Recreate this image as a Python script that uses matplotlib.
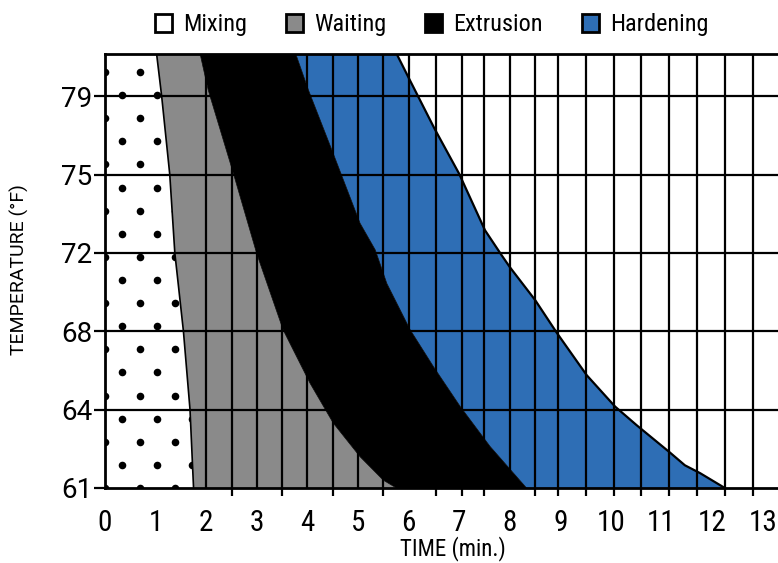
import numpy as np
import matplotlib
matplotlib.use('Agg')
import matplotlib.pyplot as plt
from matplotlib import font_manager
from matplotlib.patches import Patch

# Temperature levels on the y axis (drawn evenly spaced, one unit apart)
temp_labels = ['61', '64', '68', '72', '75', '79']
time_ticks = list(range(0, 14))

# Stage boundaries: time (min.) vs. level on the
# temperature axis (0 = 61, 1 = 64, ... 5 = 79, 5.54 = top of the plot)
mix_t = [1.02, 1.12, 1.28, 1.38, 1.55, 1.68, 1.75]
mix_lvl = [5.54, 5.0, 4.0, 3.0, 2.0, 1.0, 0.0]

ext_start_t = [1.88, 2.04, 2.54, 3.0, 3.52, 4.05, 4.51, 5.04, 5.50, 5.76]
ext_start_lvl = [5.54, 5.08, 4.01, 2.99, 2.02, 1.34, 0.83, 0.40, 0.10, 0.0]

ext_end_t = [3.77, 4.02, 4.51, 5.04, 5.34, 5.57, 6.03, 6.49, 7.02, 7.61, 8.33]
ext_end_lvl = [5.54, 5.08, 4.27, 3.38, 3.04, 2.61, 2.02, 1.55, 1.04, 0.53, 0.0]

hard_t = [5.765, 6.03, 6.51, 7.0, 7.51, 7.84, 8.0, 8.50, 8.93, 9.52, 10.08,
          10.51, 11.17, 11.46, 11.76, 12.25]
hard_lvl = [5.54, 5.20, 4.59, 4.01, 3.29, 2.97, 2.82, 2.40, 1.98, 1.44, 1.04,
            0.80, 0.45, 0.29, 0.19, 0.0]

# vertical grid lines as drawn in the original
grid_t = [0, 2, 2.5, 3, 3.5, 4, 4.5, 5, 5.5, 6, 6.55, 7.05, 7.5, 8, 8.5, 8.95,
          9.5, 10.05, 10.6, 11.15, 11.7, 12.25, 12.8]

stages = ['Mixing', 'Waiting', 'Extrusion', 'Hardening']
colors = ['white', '#8a8a8a', 'black', '#2e6eb5']

top = 5.54

names = {f.name for f in font_manager.fontManager.ttflist}
narrow = next((n for n in ['Liberation Sans Narrow', 'Roboto Condensed',
                           'Open Sans Condensed', 'DejaVu Sans Condensed']
               if n in names), 'Liberation Sans')
wide = 'Roboto' if 'Roboto' in names else 'DejaVu Sans'


def region(lx, ly, rx, ry):
    xs = list(lx) + list(rx)[::-1]
    ys = list(ly) + list(ry)[::-1]
    return xs, ys


fig = plt.figure(figsize=(7.78, 5.63), dpi=100)
ax = fig.add_axes([105/778, 75/563, 673/778, 434/563])

# stage areas
mx, my = region([0, 0], [top, 0], mix_t, mix_lvl)
mix_poly = ax.fill(mx, my, color=colors[0], zorder=1, lw=0)[0]
wx, wy = region(mix_t, mix_lvl, ext_start_t, ext_start_lvl)
ax.fill(wx, wy, color=colors[1], zorder=1, lw=0)
hx, hy = region(ext_end_t, ext_end_lvl, hard_t, hard_lvl)
ax.fill(hx, hy, color=colors[3], zorder=1, lw=0)

# grid
for t in grid_t[1:]:
    ax.axvline(t, color='black', lw=1.6, zorder=1.2)
for lv in range(1, 6):
    ax.axhline(lv, color='black', lw=1.6, zorder=2)

# black extrusion band goes over the grid
ex, ey = region(ext_start_t, ext_start_lvl, ext_end_t, ext_end_lvl)
ax.fill(ex, ey, color=colors[2], zorder=2.1, lw=0.5, edgecolor='black')

# boundary lines
ax.plot(mix_t, mix_lvl, color='black', lw=1.2, zorder=2.2)
ax.plot(hard_t, hard_lvl, color='black', lw=1.6, zorder=2.2)

# dotted texture inside the mixing area
dx, dy = [], []
for r in range(20):
    start = 0.0 if r % 2 == 0 else 0.345
    for c in np.arange(start, 2.2, 0.69):
        dx.append(c)
        dy.append(r * 0.295)
dots = ax.scatter(dx, dy, s=30, color='black', zorder=2.5, lw=0)
dots.set_clip_path(mix_poly)

ax.set_xlim(0, 673/50.6)
ax.set_ylim(0, top)

ax.set_xticks(time_ticks)
ax.set_xticklabels([str(t) for t in time_ticks], fontfamily=narrow, fontsize=21)
ax.set_xticks(grid_t, minor=True)
ax.tick_params(axis='x', which='major', length=0, pad=15)
ax.tick_params(axis='x', which='minor', length=6, width=1.6, color='black')

ax.set_yticks(range(len(temp_labels)))
ax.set_yticklabels(temp_labels, fontfamily=wide, fontsize=20)
ax.tick_params(axis='y', length=8, width=1.6, pad=1)

for s in ['left', 'bottom', 'top']:
    ax.spines[s].set_linewidth(2)
    ax.spines[s].set_zorder(3)
ax.spines['right'].set_visible(False)

ax.set_xlabel('TIME (min.)', fontfamily=narrow, fontsize=16.5, va='center')
ax.xaxis.set_label_coords((453 - 105) / 673, -(549 - 488) / 434)
ax.set_ylabel('TEMPERATURE (°F)', fontfamily=wide, fontsize=14, va='center')
ax.yaxis.set_label_coords(-(105 - 19) / 673, (488 - 270) / 434)

handles = [Patch(facecolor=c, edgecolor='black', lw=2) for c in colors]
fig.legend(handles, stages, ncol=4, loc='upper center',
           bbox_to_anchor=(0.555, 1.015), frameon=False,
           handlelength=0.7, handleheight=0.75, handletextpad=0.45,
           columnspacing=1.6, prop={'family': narrow, 'size': 17.5})

fig.savefig('out.png', dpi=100)
